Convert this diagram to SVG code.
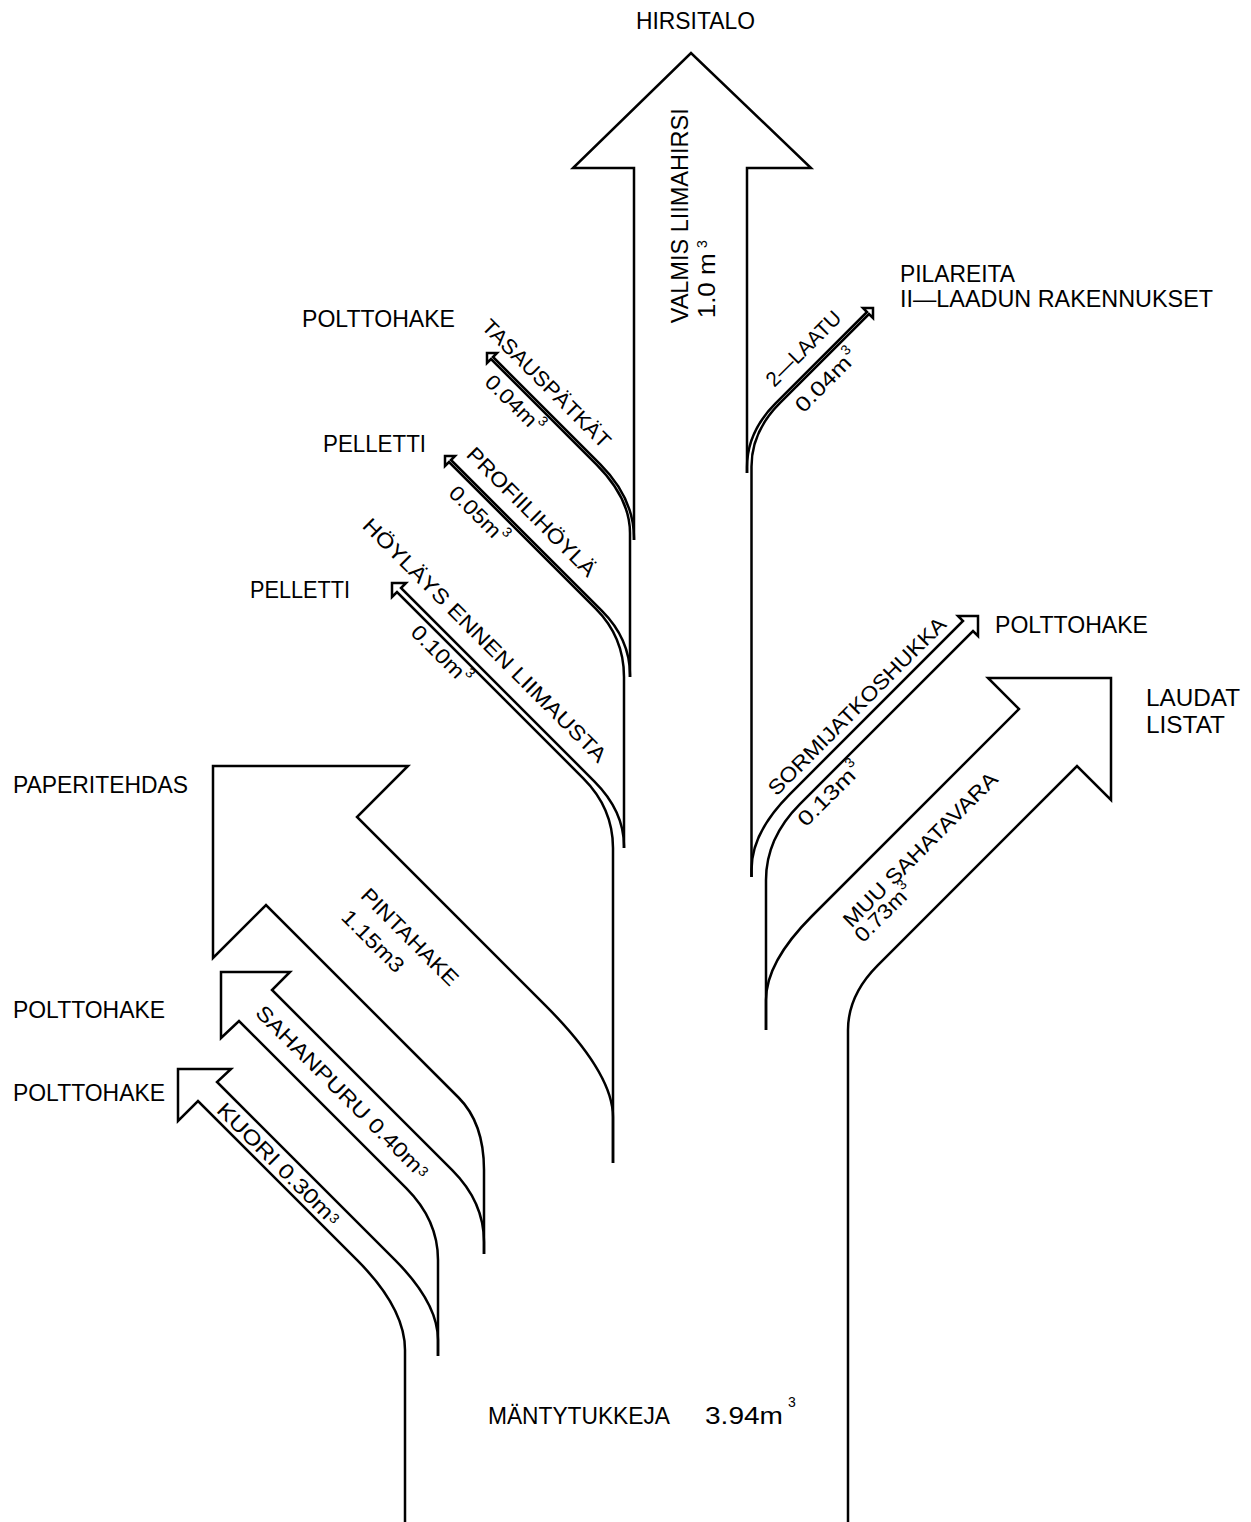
<svg xmlns="http://www.w3.org/2000/svg" width="1251" height="1522" viewBox="0 0 1251 1522">
<style>
.ln{fill:none;stroke:#000;stroke-width:2.5;stroke-linejoin:miter;stroke-linecap:butt}
.t{font-family:"Liberation Sans",Arial,sans-serif;fill:#000;font-size:24px}
.r{font-size:21px}
.s{font-size:14px}
</style>
<rect width="1251" height="1522" fill="#fff"/>
<g id="connectors">
<path id="flow-hirsitalo" class="ln" d="M634,540 L634,168 L573,168 L691,53 L811,168 L747,168 L747,473"/>
<path id="flow-tasaus" class="ln" d="M634,540 L634,538 Q634,498 600.1,464.1 L493,357 L497,353 L487,353 L487,363 L491,359 L596.1,464.1 Q630,498 630,533 L630,677"/>
<path id="flow-profiili" class="ln" d="M630,677 L630,675 Q630,639 601.7,610.7 L451,460 L455,456 L445,456 L445,466 L449,462 L595.7,608.7 Q624,637 624,677 L624,848"/>
<path id="flow-hoylays" class="ln" d="M624,848 L624,846 Q624,811 594.3,781.3 L401,588 L406,583 L392,583 L392,597 L397,592 L583.3,778.3 Q613,808 613,848 L613,1163"/>
<path id="flow-pintahake" class="ln" d="M613,1163 L613,1117 Q613,1073 545.1,1005.1 L357,817 L408,766 L213,766 L213,958 L266,905 L458.5,1097.5 Q484,1123 484,1170 L484,1254"/>
<path id="flow-sahanpuru" class="ln" d="M484,1254 L484,1242 Q484,1202 452.2,1170.2 L272,990 L290,972 L221,972 L221,1038 L239,1021 L406.2,1188.2 Q438,1220 438,1260 L438,1356"/>
<path id="flow-kuori" class="ln" d="M438,1356 L438,1340 Q438,1303 394.9,1259.9 L217,1082 L231,1069 L178,1069 L178,1121 L198,1101 L356.9,1259.9 Q405,1308 405,1350 L405,1522"/>
<path id="flow-2laatu" class="ln" d="M747,473 L747,467 Q747,432 775.3,403.7 L867,312 L863,308 L873,308 L873,318 L869,314 L779.8,403.2 Q751.5,431.5 751.5,466.5 L751.5,877"/>
<path id="flow-sormijatko" class="ln" d="M751.5,877 L751.5,869.5 Q751.5,832.5 789.7,794.3 L963,621 L958,616 L978,616 L978,636 L973,631 L799.9,804.1 Q766,838 766,880 L766,1030"/>
<path id="flow-muu" class="ln" d="M766,1030 L766,1000 Q766,962 812,916 L1019,709 L988,678 L1111,678 L1111,800 L1077,766 L877.7,965.3 Q848,995 848,1030 L848,1522"/>
</g>
<g id="flow-labels">
<text class="t" font-size="23" transform="translate(688.3,323.3) rotate(-90)" textLength="215" lengthAdjust="spacingAndGlyphs">VALMIS LIIMAHIRSI</text>
<text class="t" font-size="23" transform="translate(715,318.3) rotate(-90)" textLength="65" lengthAdjust="spacingAndGlyphs">1.0 m</text>
<text class="t s" transform="translate(707,248) rotate(-90)">3</text>
<g transform="translate(546.7,383.3) rotate(45)"><text class="t r" x="-86" y="7.5" textLength="172" lengthAdjust="spacingAndGlyphs">TASAUSPÄTKÄT</text></g>
<g transform="translate(515,404) rotate(45)"><text class="t r" x="-37" y="7.5" textLength="64" lengthAdjust="spacingAndGlyphs">0.04m</text><text class="t s" x="28" y="-3">3</text></g>
<g transform="translate(531.7,511.7) rotate(45)"><text class="t r" x="-86.5" y="7.5" textLength="173" lengthAdjust="spacingAndGlyphs">PROFIILIHÖYLÄ</text></g>
<g transform="translate(479,515) rotate(45)"><text class="t r" x="-37" y="7.5" textLength="64" lengthAdjust="spacingAndGlyphs">0.05m</text><text class="t s" x="28" y="-3">3</text></g>
<g transform="translate(485,640) rotate(45)"><text class="t r" x="-167.5" y="7.5" textLength="335" lengthAdjust="spacingAndGlyphs">HÖYLÄYS ENNEN LIIMAUSTA</text></g>
<g transform="translate(441.7,655) rotate(45)"><text class="t r" x="-38" y="7.5" textLength="66" lengthAdjust="spacingAndGlyphs">0.10m</text><text class="t s" x="29" y="-3">3</text></g>
<g transform="translate(410,936.7) rotate(45)"><text class="t r" x="-64" y="7.5" textLength="128" lengthAdjust="spacingAndGlyphs">PINTAHAKE</text></g>
<g transform="translate(373.3,940.8) rotate(45)"><text class="t r" x="-39.5" y="7.5" textLength="79" lengthAdjust="spacingAndGlyphs">1.15m3</text></g>
<g transform="translate(343.3,1092.5) rotate(45)"><text class="t r" x="-118.5" y="7.5" textLength="226" lengthAdjust="spacingAndGlyphs">SAHANPURU 0.40m</text><text class="t s" x="108.5" y="4">3</text></g>
<g transform="translate(279.2,1164.2) rotate(45)"><text class="t r" x="-82.5" y="7.5" textLength="155" lengthAdjust="spacingAndGlyphs">KUORI 0.30m</text><text class="t s" x="73.5" y="4">3</text></g>
<g transform="translate(803.3,348.3) rotate(-45)"><text class="t r" x="-48.5" y="7.5" textLength="97" lengthAdjust="spacingAndGlyphs">2—LAATU</text></g>
<g transform="translate(827.5,379) rotate(-45)"><text class="t r" x="-41.5" y="7.5" textLength="70" lengthAdjust="spacingAndGlyphs">0.04m</text><text class="t s" x="29.5" y="-3">3</text></g>
<g transform="translate(856.7,705.8) rotate(-45)"><text class="t r" x="-121" y="7.5" textLength="242" lengthAdjust="spacingAndGlyphs">SORMIJATKOSHUKKA</text></g>
<g transform="translate(830.8,792.5) rotate(-45)"><text class="t r" x="-42.5" y="7.5" textLength="72" lengthAdjust="spacingAndGlyphs">0.13m</text><text class="t s" x="30.5" y="-3">3</text></g>
<g transform="translate(920,849.2) rotate(-45)"><text class="t r" x="-104.5" y="7.5" textLength="209" lengthAdjust="spacingAndGlyphs">MUU SAHATAVARA</text></g>
<g transform="translate(884.2,911.7) rotate(-45)"><text class="t r" x="-37.5" y="7.5" textLength="64" lengthAdjust="spacingAndGlyphs">0.73m</text><text class="t s" x="27.5" y="-2">3</text></g>
</g>
<g id="node-hirsitalo"><text class="t" font-size="21" x="636" y="28.5" textLength="119" lengthAdjust="spacingAndGlyphs">HIRSITALO</text></g>
<g id="node-polttohake-1"><text class="t" x="302" y="327" textLength="153" lengthAdjust="spacingAndGlyphs">POLTTOHAKE</text></g>
<g id="node-pelletti-1"><text class="t" x="323" y="452" textLength="103" lengthAdjust="spacingAndGlyphs">PELLETTI</text></g>
<g id="node-pelletti-2"><text class="t" x="250" y="598" textLength="100" lengthAdjust="spacingAndGlyphs">PELLETTI</text></g>
<g id="node-paperitehdas"><text class="t" x="13" y="793" textLength="175" lengthAdjust="spacingAndGlyphs">PAPERITEHDAS</text></g>
<g id="node-polttohake-2"><text class="t" x="13" y="1018" textLength="152" lengthAdjust="spacingAndGlyphs">POLTTOHAKE</text></g>
<g id="node-polttohake-3"><text class="t" x="13" y="1101" textLength="152" lengthAdjust="spacingAndGlyphs">POLTTOHAKE</text></g>
<g id="node-pilareita"><text class="t" font-size="21" x="900" y="282" textLength="115" lengthAdjust="spacingAndGlyphs">PILAREITA</text><text class="t" font-size="21" x="900" y="307" textLength="313" lengthAdjust="spacingAndGlyphs">II—LAADUN RAKENNUKSET</text></g>
<g id="node-polttohake-4"><text class="t" x="995" y="633" textLength="153" lengthAdjust="spacingAndGlyphs">POLTTOHAKE</text></g>
<g id="node-laudat"><text class="t" x="1146" y="706" textLength="94" lengthAdjust="spacingAndGlyphs">LAUDAT</text><text class="t" x="1146" y="733" textLength="79" lengthAdjust="spacingAndGlyphs">LISTAT</text></g>
<g id="node-mantytukkeja"><text class="t" x="488" y="1424" textLength="182" lengthAdjust="spacingAndGlyphs">MÄNTYTUKKEJA</text><text class="t" x="705" y="1424" textLength="78" lengthAdjust="spacingAndGlyphs">3.94m</text><text class="t s" x="788" y="1407">3</text></g>
</svg>
